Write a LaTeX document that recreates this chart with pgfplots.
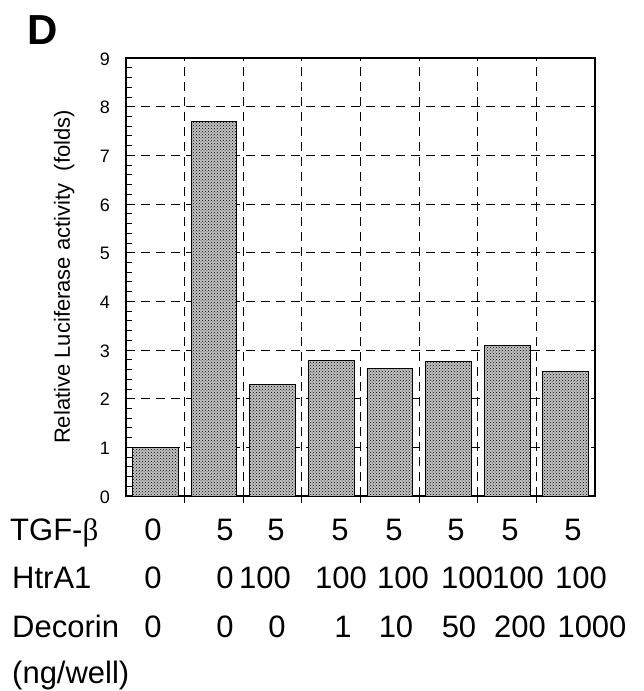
\documentclass[border=0pt]{standalone}
\usepackage{fontspec}
\setmainfont{Liberation Sans}
\newfontfamily\greekserif{Liberation Serif}
\usepackage{pgfplots}
\pgfplotsset{compat=1.18}
\usetikzlibrary{patterns}

\newcommand{\rowfont}{\fontsize{31}{31}\selectfont}
\newcommand{\tickfont}{\fontsize{18}{20}\selectfont}

\begin{document}
\begin{tikzpicture}[x=1pt,y=1pt]
% page frame: reference is 644 x 691, axis box lower left at (126,496) px
\path[use as bounding box] (-126,-195) rectangle (518,496);

\begin{axis}[
    scale only axis,
    width=469pt, height=438pt,
    xmin=-0.5, xmax=7.5,
    ymin=0, ymax=9,
    clip=false,
    ytick={0,1,2,3,4,5,6,7,8,9},
    yticklabels={},
    minor y tick num=4,
    xtick={0.5,1.5,...,6.5},
    xticklabels={},
    tick pos=left,
    tick align=inside,
    major tick length=7pt,
    minor tick length=6pt,
    tick style={black, line width=0.8pt},
    grid=major,
    grid style={black, line width=0.8pt, dash pattern=on 9pt off 6pt},
    axis line style={black, line width=1.2pt},
    ylabel={Relative Luciferase activity\ \ (folds)},
    ylabel style={font=\fontsize{22}{22}\selectfont, at={(axis description cs:-0.132,0.50)}, anchor=center},
    ybar, bar width=0.78,
]
\addplot[draw=black, line width=0.8pt, fill=gray!48,
    postaction={pattern=crosshatch dots, pattern color=black}]
  coordinates {(0,1.00)(1,7.70)(2,2.29)(3,2.79)(4,2.62)(5,2.77)(6,3.10)(7,2.56)};
% y tick numbers
\pgfplotsinvokeforeach{0,...,9}{
  \node[anchor=east, font=\tickfont, inner sep=0pt, xshift=-16pt, yshift=-1pt] at (axis cs:-0.5,#1) {#1};
}
\end{axis}

% panel letter
\node[anchor=base west, font=\fontsize{42}{42}\selectfont\bfseries, inner sep=0pt] at (-99,451) {D};

% treatment table below the axis
\begin{scope}[every node/.style={anchor=base, inner sep=0pt, font=\rowfont}]
\node[anchor=base west] at (-116,-44) {TGF-{\greekserif β}};
\node[anchor=base west] at (-114,-92) {HtrA1};
\node[anchor=base west] at (-114,-141) {Decorin};
\node[anchor=base west] at (-114,-187) {(ng/well)};
% TGF-beta
\foreach \x/\t in {153/0,225/5,276/5,340/5,394/5,456/5,510/5,573/5}
  \node at (\x-126,-44) {\t};
% HtrA1
\foreach \x/\t in {153/0,225/0,265/100,341/100,403/100,467/100,518/100,581/100}
  \node at (\x-126,-92) {\t};
% Decorin
\foreach \x/\t in {153/0,225/0,277/0,343/1,396/10,459/50,520/200,592/1000}
  \node at (\x-126,-141) {\t};
\end{scope}
\end{tikzpicture}
\end{document}
